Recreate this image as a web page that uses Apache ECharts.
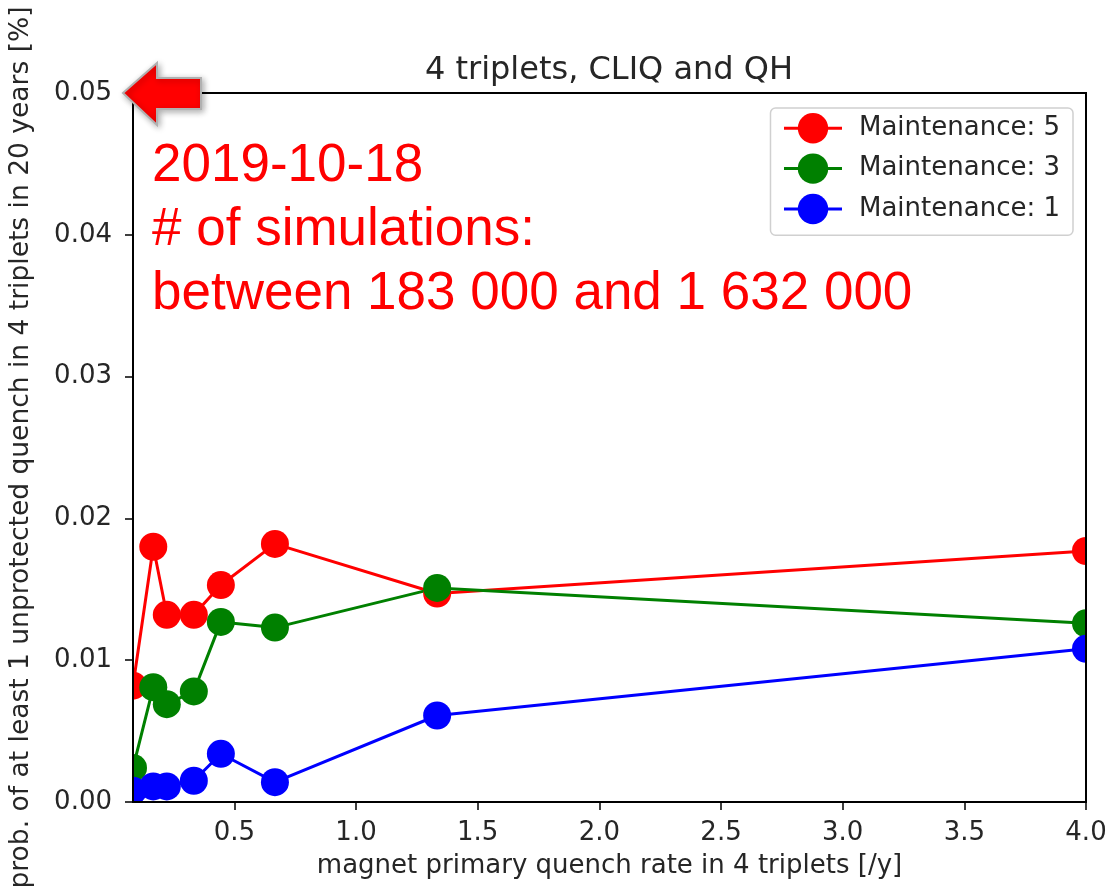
<!DOCTYPE html>
<html>
<head>
<meta charset="utf-8">
<script src="https://cdn.jsdelivr.net/npm/echarts@6/dist/echarts.min.js"></script>
<style>
html,body{margin:0;padding:0;background:#fff;}
#chart{width:1106px;height:893px;}
</style>
</head>
<body>
<div id="chart"></div>
<script>
// Data
var xValues = [1/12, 1/6, 2/9, 1/3, 4/9, 2/3, 4/3, 4];
var maint5 = [0.0082, 0.0180, 0.0132, 0.0132, 0.0153, 0.0182, 0.0147, 0.0177];
var maint3 = [0.0024, 0.0081, 0.0069, 0.0078, 0.0127, 0.0123, 0.0151, 0.0126];
var maint1 = [0.0008, 0.0011, 0.0011, 0.0015, 0.0034, 0.0014, 0.0061, 0.0108];
var seriesNames = ['Maintenance: 5', 'Maintenance: 3', 'Maintenance: 1'];
var xTicks = [0.5, 1.0, 1.5, 2.0, 2.5, 3.0, 3.5, 4.0];
var annotationLines = ['2019-10-18', '# of simulations:', 'between 183 000 and 1 632 000'];
var titleText = '4 triplets, CLIQ and QH';
var xName = 'magnet primary quench rate in 4 triplets [/y]';
var yName = 'prob. of at least 1 unprotected quench in 4 triplets in 20 years [%]';

function pairs(ys){ return xValues.map(function(x,i){ return [x, ys[i]]; }); }

var chart = echarts.init(document.getElementById('chart'), null, {renderer:'canvas'});
var FONT = 'DejaVu Sans';
var TXT = '#262626';
var FS = 26;

function mkSeries(name, data, color){
  return {
    name: name, type: 'line', data: pairs(data), clip: false,
    symbol: 'circle', symbolSize: 28,
    lineStyle: {color: color, width: 3},
    itemStyle: {color: color},
    emphasis: {disabled: true},
    animation: false
  };
}

var L = 133, R = 1086, T = 93, B = 802;

var graphics = [
  // white masks clipping markers at the plot edges
  {type:'rect', z:5, shape:{x:0, y:0, width:L-1, height:893}, style:{fill:'#fff'}},
  {type:'rect', z:5, shape:{x:R+1, y:0, width:1106-R, height:893}, style:{fill:'#fff'}},
  {type:'rect', z:5, shape:{x:0, y:B+1, width:1106, height:893-B}, style:{fill:'#fff'}},
  {type:'rect', z:5, shape:{x:0, y:0, width:1106, height:T-1}, style:{fill:'#fff'}},
  // red arrow annotation
  {type:'polygon', z:30,
    shape:{points:[[123,93],[157,63],[157,78],[201,78],[201,109],[157,109],[157,125]]},
    style:{fill:'#ff0000', stroke:'#b0b0b0', lineWidth:2, shadowBlur:6, shadowColor:'rgba(0,0,0,0.3)', shadowOffsetX:2, shadowOffsetY:2}}
];
annotationLines.forEach(function(t, i){
  graphics.push({type:'text', z:30, left:152, top:140 + i*64,
    style:{text:t, fill:'#ff0000', font:'53px "Liberation Sans"'}});
});

chart.setOption({
  backgroundColor:'#fff',
  animation:false,
  title:{text:titleText, left:604, top:50, textAlign:'center',
    textStyle:{fontFamily:FONT, fontSize:32, fontWeight:'normal', color:TXT}},
  grid:{left:L, right:1106-R, top:T, bottom:893-B, containLabel:false, outerBoundsMode:'none',
    show:true, borderColor:'#000', borderWidth:2, backgroundColor:'transparent', z:10},
  legend:{
    orient:'vertical', right:33, top:108,
    data:seriesNames,
    backgroundColor:'#fff', borderColor:'#d0d0d0', borderWidth:1.5, borderRadius:5,
    padding:[5,13,11,12],
    itemWidth:58, itemHeight:38, itemGap:10,
    lineStyle:{width:3},
    textStyle:{fontFamily:FONT, fontSize:FS, color:TXT, padding:[0,0,0,12]},
    z:20
  },
  xAxis:{
    type:'value', min:xValues[0], max:4, z:10,
    name:xName, nameLocation:'middle', nameGap:51,
    nameTextStyle:{fontFamily:FONT, fontSize:FS, color:TXT},
    axisLine:{show:true, onZero:false, lineStyle:{color:'#000', width:2}},
    axisTick:{show:true, length:8, customValues:xTicks, lineStyle:{color:'#000', width:1.5}},
    axisLabel:{customValues:xTicks, margin:18, fontFamily:FONT, fontSize:FS, color:TXT,
      formatter:function(v){return v.toFixed(1);}},
    splitLine:{show:false}
  },
  yAxis:{
    type:'value', min:0, max:0.05, interval:0.01, z:10,
    name:yName, nameLocation:'middle', nameGap:98,
    nameTextStyle:{fontFamily:FONT, fontSize:26.5, color:TXT},
    axisLine:{show:true, lineStyle:{color:'#000', width:2}},
    axisTick:{show:true, length:8, lineStyle:{color:'#000', width:1.5}},
    axisLabel:{margin:21, fontFamily:FONT, fontSize:FS, color:TXT,
      formatter:function(v){return v.toFixed(2);}},
    splitLine:{show:false}
  },
  graphic:graphics,
  series:[
    mkSeries(seriesNames[0], maint5, '#ff0000'),
    mkSeries(seriesNames[1], maint3, '#008000'),
    mkSeries(seriesNames[2], maint1, '#0000ff')
  ]
});
</script>
</body>
</html>
